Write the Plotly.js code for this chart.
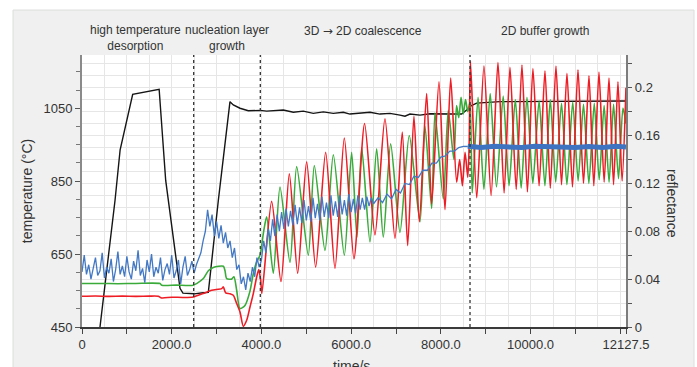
<!DOCTYPE html>
<html>
<head>
<meta charset="utf-8">
<script src="https://cdn.plot.ly/plotly-3.0.1.min.js"></script>
<style>html,body{margin:0;padding:0;background:#fff;}#chart{width:697px;height:367px;}</style>
</head>
<body>
<div id="chart"></div>
<script>
// ---------- data ----------
const blackT = [330,401,736,850,1130,1720,1866,2185,2250,2500,2700,2816,3039,3299,3373,3522,3707,3968,4117,4265,4488,4711,4934,5156,5380,5602,5825,5974,6197,6420,6643,6866,7089,7200,7312,7535,7758,7980,8277,8463,8575,8649,8797,9318,10395,11500,12127];
const blackTemp = [380,450,797,936,1088,1102,852,556,543,541,544,545,797,1068,1059,1050,1043,1044,1042,1043,1045,1039,1042,1036,1040,1036,1039,1034,1037,1039,1034,1036,1031,1028,1034,1031,1035,1034,1034,1034,1045,1055,1064,1068,1068,1069,1070];

const redT = [0,300,600,900,1200,1500,1700,1775,2000,2250,2480,2700,2891,3114,3151,3203,3299,3373,3448,3522,3596,3671,3745,3819,3894,3940,3980,4010,4228,4436,4622,4808,5008,5209,5432,5640,5848,6063,6300,6531,6754,6977,7140,7260,7400,7520,7683,7795,7958,8092,8219,8352,8420,8480,8540,8600,8630,8660,8800,8961,9120,9273,9410,9541,9680,9808,9930,10053,10190,10321,10440,10566,10690,10811,10934,11057,11180,11302,11410,11525,11640,11748,11850,11948,12040,12127];
const redR = [0.0257,0.0259,0.0256,0.0258,0.0256,0.0258,0.0257,0.0243,0.0249,0.0247,0.0251,0.0280,0.0307,0.0321,0.0335,0.0285,0.0278,0.0265,0.0196,0.0126,0.0006,0.0056,0.0167,0.0279,0.0418,0.048,0.040,0.028,0.105,0.038,0.128,0.045,0.138,0.050,0.146,0.049,0.158,0.057,0.170,0.077,0.174,0.074,0.163,0.068,0.176,0.088,0.195,0.103,0.205,0.098,0.208,0.121,0.140,0.118,0.146,0.125,0.150,0.222,0.108,0.218,0.110,0.221,0.112,0.217,0.115,0.219,0.113,0.216,0.118,0.214,0.116,0.218,0.119,0.212,0.117,0.215,0.120,0.210,0.118,0.213,0.121,0.208,0.119,0.205,0.122,0.200];

const greenT = [0,400,800,1200,1740,1780,2100,2480,2556,2705,2816,2927,3151,3188,3225,3336,3388,3448,3522,3633,3745,3819,3894,3968,4050,4117,4265,4414,4637,4786,5045,5179,5417,5603,5848,6011,6130,6235,6420,6569,6717,6881,7089,7296,7535,7646,7795,7869,8054,8165,8290,8350,8400,8450,8500,8550,8600,8650,8700,8830,8960,9100,9240,9390,9520,9660,9790,9920,10050,10190,10320,10440,10560,10690,10810,10940,11060,11180,11300,11420,11530,11640,11750,11850,11960,12060,12127];
const greenR = [0.0363,0.0364,0.0362,0.0364,0.0363,0.0349,0.0350,0.0349,0.0363,0.0405,0.047,0.0497,0.0508,0.047,0.0405,0.0400,0.042,0.0307,0.0154,0.018,0.030,0.0447,0.0544,0.060,0.080,0.092,0.045,0.117,0.054,0.134,0.060,0.135,0.064,0.144,0.060,0.146,0.075,0.150,0.071,0.149,0.075,0.153,0.079,0.160,0.088,0.168,0.099,0.179,0.107,0.181,0.140,0.185,0.175,0.192,0.178,0.190,0.180,0.188,0.112,0.192,0.115,0.195,0.117,0.193,0.118,0.190,0.116,0.192,0.120,0.189,0.118,0.190,0.121,0.187,0.119,0.188,0.122,0.186,0.120,0.187,0.123,0.185,0.121,0.186,0.124,0.183,0.170];

const blueT = [0,50,100,150,200,250,300,350,400,450,500,550,600,650,700,750,800,850,900,950,1000,1050,1100,1150,1200,1250,1300,1350,1400,1450,1500,1550,1600,1650,1700,1750,1800,1850,1900,1950,2000,2050,2100,2150,2200,2250,2300,2350,2400,2450,2500,
2550,2600,2650,2700,2750,2800,2850,2900,2950,3000,3050,3100,3150,3200,3250,3300,3350,3400,3450,3500,3550,3600,3650,3700,3750,3800,3850,3900,3950,
4000,4050,4100,4150,4200,4250,4300,4350,4400,4450,4500,4550,4600,4650,4700,4750,4800,4850,4900,4950,5000,5050,5100,5150,5200,5250,5300,5350,5400,5450,5500,5550,5600,5650,5700,5750,5800,5850,5900,5950,6000,6050,6100,6150,6200,6250,6300,6350,6400,6450,6500,
6600,6700,6800,6900,7000,7100,7200,7300,7400,7500,7600,7700,7800,7900,8000,8100,8200,8300,8400,8500,8600];
const blueR = [0.046,0.060,0.044,0.052,0.040,0.049,0.058,0.043,0.047,0.062,0.041,0.050,0.045,0.057,0.038,0.048,0.063,0.044,0.051,0.042,0.059,0.046,0.040,0.055,0.047,0.064,0.043,0.049,0.037,0.056,0.046,0.061,0.042,0.050,0.045,0.058,0.039,0.048,0.053,0.044,0.060,0.041,0.047,0.056,0.036,0.050,0.059,0.043,0.048,0.055,0.045,
0.052,0.058,0.062,0.072,0.080,0.098,0.084,0.094,0.076,0.088,0.074,0.085,0.070,0.079,0.066,0.072,0.058,0.066,0.048,0.052,0.036,0.042,0.031,0.045,0.038,0.050,0.042,0.058,0.050,
0.056,0.072,0.062,0.082,0.072,0.090,0.076,0.094,0.080,0.096,0.082,0.099,0.084,0.097,0.085,0.102,0.086,0.100,0.087,0.106,0.089,0.101,0.088,0.108,0.091,0.103,0.089,0.109,0.092,0.104,0.091,0.110,0.093,0.105,0.092,0.110,0.094,0.106,0.093,0.111,0.096,0.107,0.095,0.110,0.098,0.108,0.098,0.109,0.101,0.108,0.103,
0.108,0.104,0.111,0.107,0.115,0.112,0.120,0.119,0.126,0.125,0.131,0.131,0.137,0.137,0.142,0.143,0.147,0.147,0.150,0.151,0.151];

const blueFlatT = [8600,8900,9200,9500,9800,10100,10400,10700,11000,11300,11600,11900,12127];
const blueFlatR = [0.151,0.150,0.151,0.1505,0.150,0.151,0.1505,0.151,0.150,0.1508,0.150,0.151,0.1505];

const phaseBounds = [2490, 3975, 8650];
const phaseLabels = ["high temperature<br>desorption", "nucleation layer<br>growth", "3D <span style=\"font-family:'DejaVu Sans'\">\u2192</span> 2D coalescence", "2D buffer growth"];
const phaseCenters = [1193, 3225, 6264, 10343];

const xGrid = [0,500,1000,1500,2000,2500,3000,3500,4000,4500,5000,5500,6000,6500,7000,7500,8000,8500,9000,9500,10000,10500,11000,11500,12000];
const xTickVals = [0,1000,2000,3000,4000,5000,6000,7000,8000,9000,10000,11000,12000,12127.5];
const xTickText = ["0","","2000.0","","4000.0","","6000.0","","8000.0","","10000.0","","","12127.5"];
const tempTickVals = [450,650,850,1050];
const tempTickText = ["450","650","850","1050"];
const reflTickVals = [0,0.02,0.04,0.06,0.08,0.10,0.12,0.14,0.16,0.18,0.20,0.22];
const reflTickText = ["0","","0.04","","0.08","","0.12","","0.16","","0.2",""];
const reflGrid = [0.01,0.03,0.05,0.07,0.09,0.11,0.13,0.15,0.17,0.19,0.21];

// ---------- chart ----------
const FONT = "'Liberation Sans', Arial, sans-serif";
const TXT = '#333333';
const GRID = '#e6e6e6';

const traces = [
  {x: blackT, y: blackTemp, yaxis: 'y', mode: 'lines', line: {color: '#151515', width: 1.4}, hoverinfo: 'skip'},
  {x: greenT, y: greenR, yaxis: 'y2', mode: 'lines', line: {color: '#3aab3a', width: 1.6, shape: 'spline', smoothing: 0.7}, hoverinfo: 'skip'},
  {x: redT, y: redR, yaxis: 'y2', mode: 'lines', line: {color: '#ee1c24', width: 1.6, shape: 'spline', smoothing: 0.7}, hoverinfo: 'skip'},
  {x: blueT, y: blueR, yaxis: 'y2', mode: 'lines', line: {color: '#4278c4', width: 1.3}, hoverinfo: 'skip'},
  {x: blueFlatT, y: blueFlatR, yaxis: 'y2', mode: 'lines', line: {color: '#3e73c2', width: 5}, hoverinfo: 'skip'}
];

const shapes = [
  {type: 'rect', xref: 'paper', yref: 'paper', x0: -0.1268, x1: 1.125, y0: -0.2, y1: 1.1654,
   fillcolor: '#eff0ef', line: {color: '#dcdedc', width: 1}, layer: 'below'},
  {type: 'rect', xref: 'paper', yref: 'paper', x0: 0, x1: 1, y0: 0, y1: 1,
   fillcolor: '#ffffff', line: {width: 0}, layer: 'below'}
];
phaseBounds.forEach(b => shapes.push({type: 'line', xref: 'x', yref: 'paper', x0: b, x1: b, y0: 0, y1: 1,
  line: {color: '#333', width: 1.3, dash: '3px,3px'}}));

const annotations = phaseLabels.map((t, i) => ({
  text: t, xref: 'x', yref: 'paper', x: phaseCenters[i], y: t.indexOf('<br>') >= 0 ? 1.064 : 1.088,
  xanchor: 'center', yanchor: 'middle', showarrow: false, font: {family: FONT, size: 12, color: TXT}
}));
annotations.push({text: 'reflectance', xref: 'paper', yref: 'paper', x: (672-82)/544, y: (327-203)/272,
  textangle: 90, showarrow: false, xanchor: 'center', yanchor: 'middle', font: {family: FONT, size: 14, color: TXT}});
annotations.push({text: 'time/s', xref: 'paper', yref: 'paper', x: (351-82)/544, y: (327-356)/272,
  showarrow: false, xanchor: 'center', yanchor: 'top', font: {family: FONT, size: 14, color: TXT}});

const layout = {
  width: 697, height: 367,
  margin: {l: 82, r: 71, t: 55, b: 40, pad: 0},
  paper_bgcolor: '#ffffff', plot_bgcolor: '#ffffff',
  showlegend: false,
  font: {family: FONT, size: 13, color: TXT},
  xaxis: {
    range: [0, 12127.5], tickmode: 'array', tickvals: xTickVals, ticktext: xTickText,
    ticks: 'outside', ticklen: 5, tickcolor: '#444', tickwidth: 1,
    showgrid: true, gridcolor: GRID, gridwidth: 1, zeroline: false,
    showline: true, linecolor: '#3a3a3a', linewidth: 1.6,
    minor: {tickmode: 'array', tickvals: xGrid, showgrid: true, gridcolor: GRID, gridwidth: 1, ticks: ''},
    tickfont: {family: FONT, size: 13, color: TXT}
  },
  yaxis: {
    range: [450, 1196], tickmode: 'array', tickvals: tempTickVals, ticktext: tempTickText,
    ticks: 'outside', ticklen: 5, tickcolor: '#555', showgrid: false, zeroline: false,
    showline: true, linecolor: '#8a8a8a', linewidth: 2,
    minor: {dtick: 50, tick0: 450, ticks: 'outside', ticklen: 4, tickcolor: '#777', showgrid: false},
    title: {text: 'temperature (\u00B0C)', standoff: 8, font: {family: FONT, size: 14, color: TXT}},
    tickfont: {family: FONT, size: 13, color: TXT}
  },
  yaxis2: {
    range: [0, 0.2273], overlaying: 'y', side: 'right',
    tickmode: 'array', tickvals: reflTickVals, ticktext: reflTickText,
    ticks: 'outside', ticklen: 4, tickcolor: '#555', showgrid: true, gridcolor: GRID, gridwidth: 1, zeroline: false,
    showline: true, linecolor: '#7d7d7d', linewidth: 2.2,
    minor: {tickmode: 'array', tickvals: reflGrid, showgrid: true, gridcolor: GRID, gridwidth: 1, ticks: ''},
    tickfont: {family: FONT, size: 13, color: TXT}
  },
  shapes: shapes,
  annotations: annotations
};

Plotly.newPlot('chart', traces, layout, {staticPlot: true, displayModeBar: false});
</script>
</body>
</html>
